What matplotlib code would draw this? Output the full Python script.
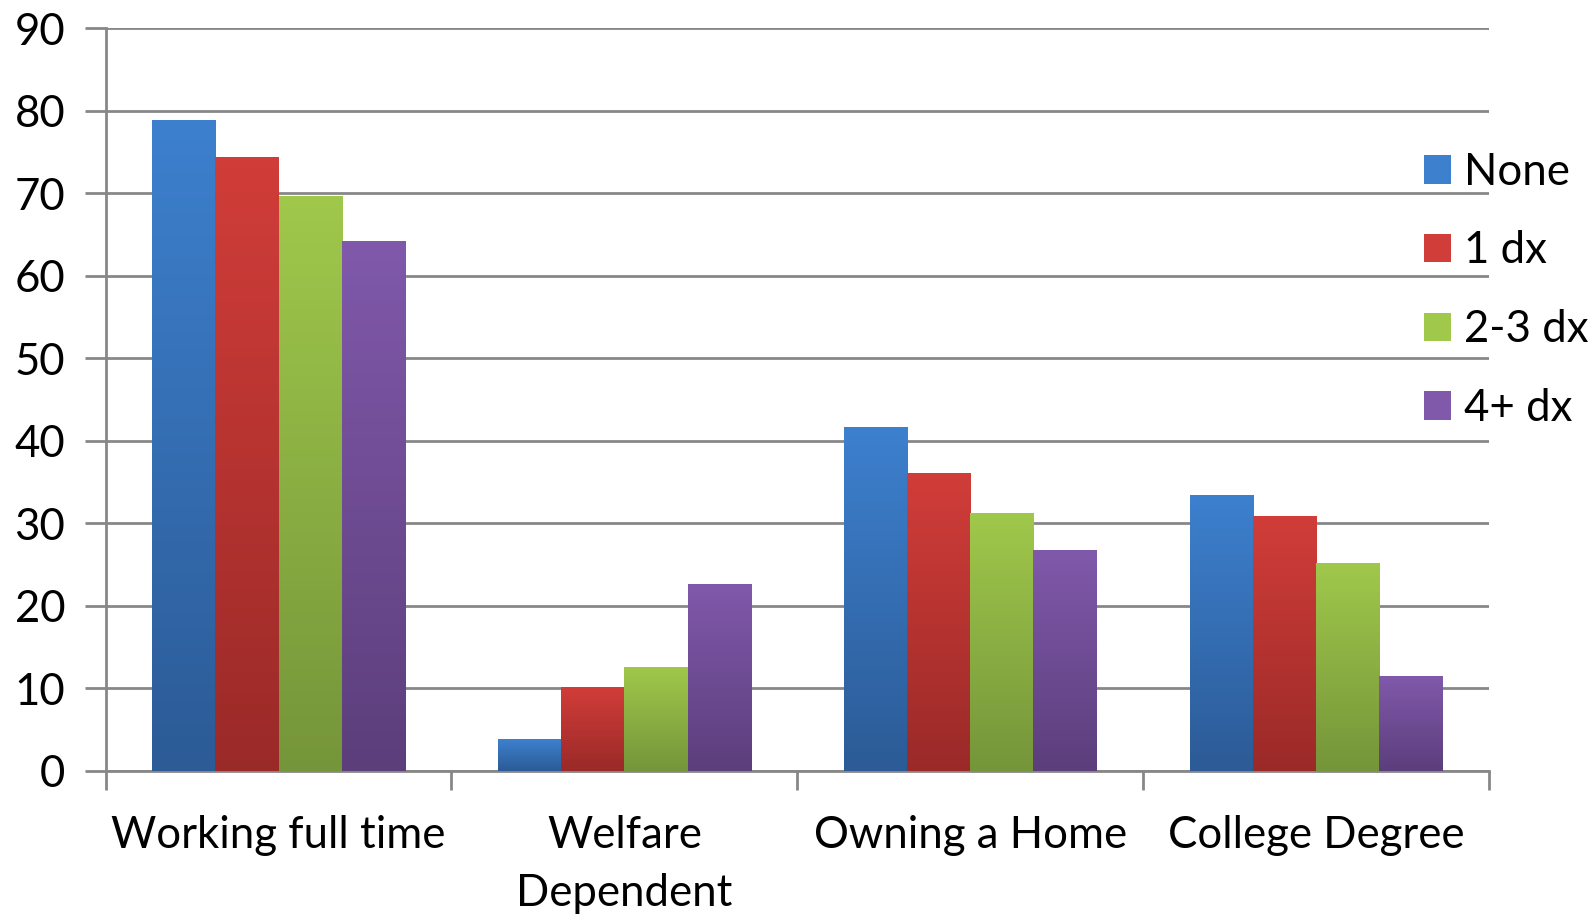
import numpy as np
import matplotlib
matplotlib.use('Agg')
import matplotlib.pyplot as plt
from matplotlib.colors import LinearSegmentedColormap
from matplotlib.patches import Patch

CATEGORIES = ['Working full time', 'Welfare\nDependent', 'Owning a Home', 'College Degree']
SERIES = ['None', '1 dx', '2-3 dx', '4+ dx']
NONE = [78.9, 3.8, 41.6, 33.4]
DX1 = [74.4, 10.1, 36.1, 30.9]
DX23 = [69.6, 12.5, 31.2, 25.2]
DX4 = [64.2, 22.6, 26.7, 11.4]
YTICKS = [0, 10, 20, 30, 40, 50, 60, 70, 80, 90]

# (top, bottom) gradient colours per series, Excel 2007 style
GRADS = [('#3d80ce', '#2c5b96'),
         ('#d13d39', '#9a2a28'),
         ('#a0c84b', '#75953a'),
         ('#8059ab', '#5c3e7b')]
GRID = '#878787'
FONT = 'Lato'
FS = 31.5

plt.rcParams['font.family'] = [FONT, 'DejaVu Sans']

fig = plt.figure(figsize=(15.9, 9.14), dpi=100)
ax = fig.add_axes([0.0664, 0.1568, 0.8701, 0.8121])

x = np.arange(len(CATEGORIES))
w = 0.1827
values = [NONE, DX1, DX23, DX4]
for i, (vals, (ctop, cbot)) in enumerate(zip(values, GRADS)):
    bars = ax.bar(x + (i - 1.5) * w, vals, w, color='none', zorder=3)
    cmap = LinearSegmentedColormap.from_list(f's{i}', [cbot, ctop])
    grad = np.linspace(0, 1, 256).reshape(-1, 1)
    for b in bars:
        x0, y0 = b.get_x(), b.get_y()
        ax.imshow(grad, cmap=cmap, origin='lower', aspect='auto',
                  extent=(x0, x0 + b.get_width(), y0, y0 + b.get_height()),
                  zorder=3, interpolation='bicubic')

ax.set_xlim(-0.5, len(CATEGORIES) - 0.5)
ax.set_ylim(0, 90)
ax.set_yticks(YTICKS)
ax.set_yticklabels([str(v) for v in YTICKS], fontsize=FS)
ax.set_xticks(x)
ax.set_xticklabels(CATEGORIES, fontsize=FS, linespacing=1.5)
ax.set_xticks(np.arange(len(CATEGORIES) + 1) - 0.5, minor=True)
ax.tick_params(axis='x', which='major', length=0, pad=32)
ax.tick_params(axis='x', which='minor', length=14, width=2, color=GRID)
ax.tick_params(axis='y', length=15, width=2, color=GRID, pad=14)

ax.grid(axis='y', color=GRID, lw=2, zorder=0)
ax.set_axisbelow(True)
for side in ('top', 'right'):
    ax.spines[side].set_visible(False)
for side in ('left', 'bottom'):
    ax.spines[side].set_color(GRID)
    ax.spines[side].set_linewidth(2)

handles = [Patch(facecolor=c[0], edgecolor='none') for c in GRADS]
fig.legend(handles, SERIES, loc='upper left', bbox_to_anchor=(0.8845, 0.853),
           frameon=False, fontsize=FS, handlelength=0.62, handleheight=0.62,
           handletextpad=0.3, labelspacing=0.86, borderaxespad=0)

fig.savefig('out.png', dpi=100, facecolor='white')
